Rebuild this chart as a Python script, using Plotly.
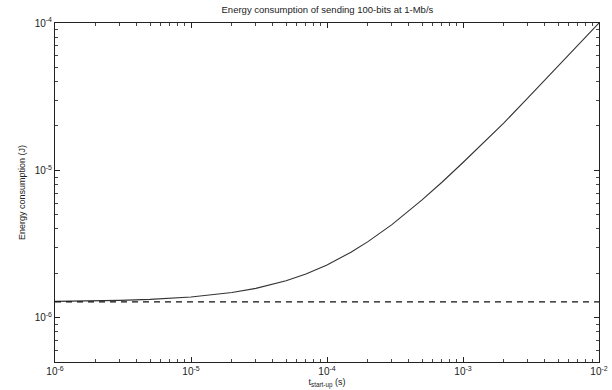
import plotly.graph_objects as go
import math

# t_start-up (s)
t_startup = [1e-6, 2e-6, 3e-6, 5e-6, 1e-5, 2e-5, 3e-5, 5e-5, 7e-5, 1e-4,
             1.5e-4, 2e-4, 3e-4, 5e-4, 7e-4, 1e-3, 2e-3, 3e-3, 5e-3, 7e-3, 1e-2]
# Energy consumption (J), solid curve
energy = [1.29e-6, 1.30e-6, 1.31e-6, 1.33e-6, 1.38e-6, 1.48e-6, 1.58e-6, 1.78e-6,
          1.98e-6, 2.28e-6, 2.78e-6, 3.28e-6, 4.28e-6, 6.3e-6, 8.3e-6, 1.13e-5,
          2.1e-5, 3.1e-5, 5.1e-5, 7.1e-5, 1.0e-4]
# dashed reference level
baseline_t = [1e-6, 1e-2]
baseline_e = [1.28e-6, 1.28e-6]

x_tickvals = [1e-6, 1e-5, 1e-4, 1e-3, 1e-2]
x_ticktext = ["10<sup>-6</sup>", "10<sup>-5</sup>", "10<sup>-4</sup>", "10<sup>-3</sup>", "10<sup>-2</sup>"]
y_tickvals = [1e-6, 1e-5, 1e-4]
y_ticktext = ["10<sup>-6</sup>", "10<sup>-5</sup>", "10<sup>-4</sup>"]
x_minor = [m * 10.0 ** e for e in range(-6, -2) for m in range(2, 10)]
y_minor = [m * 10.0 ** e for e in range(-7, -4) for m in range(2, 10) if m * 10.0 ** e > 5e-7]

fig = go.Figure()
fig.add_trace(go.Scatter(x=t_startup, y=energy, mode="lines",
                         line=dict(color="#333333", width=1.1), showlegend=False))
fig.add_trace(go.Scatter(x=baseline_t, y=baseline_e, mode="lines",
                         line=dict(color="#111111", width=1.2, dash="6px,5px"), showlegend=False))

font = dict(family="Liberation Sans, Arial, sans-serif", size=9, color="#222222")
tfont = dict(family="Liberation Sans, Arial, sans-serif", size=10, color="#222222")
axis_common = dict(type="log", showgrid=False, zeroline=False, showline=True,
                   linecolor="#222222", linewidth=1, mirror="ticks",
                   ticks="inside", ticklen=5, tickcolor="#222222",
                   tickfont=tfont, automargin=False, ticklabeloverflow="allow")

fig.update_layout(
    width=612, height=390,
    margin=dict(l=55, r=13, t=23, b=28),
    paper_bgcolor="white", plot_bgcolor="white",
    title=dict(text="Energy consumption of sending 100-bits at 1-Mb/s",
               x=0.535, xanchor="center", y=0.985, yanchor="top", pad=dict(t=0),
               font=dict(family="Liberation Sans, Arial, sans-serif", size=9.5, color="#222222")),
    xaxis=dict(axis_common, range=[-6, -2], tickvals=x_tickvals, ticktext=x_ticktext,
               minor=dict(tickvals=x_minor, ticks="inside", ticklen=3, tickcolor="#444444", showgrid=False),
               title=dict(text="t<sub>start-up</sub> (s)", font=font, standoff=0)),
    yaxis=dict(axis_common, range=[math.log10(5e-7), -4], tickvals=y_tickvals, ticktext=y_ticktext,
               minor=dict(tickvals=y_minor, ticks="inside", ticklen=3, tickcolor="#444444", showgrid=False),
               title=dict(text="Energy consumption (J)", font=font, standoff=7)),
)

fig.write_html("out.html", config={"displayModeBar": False},
               post_script="document.body.style.margin='0';document.body.style.overflow='hidden';")
